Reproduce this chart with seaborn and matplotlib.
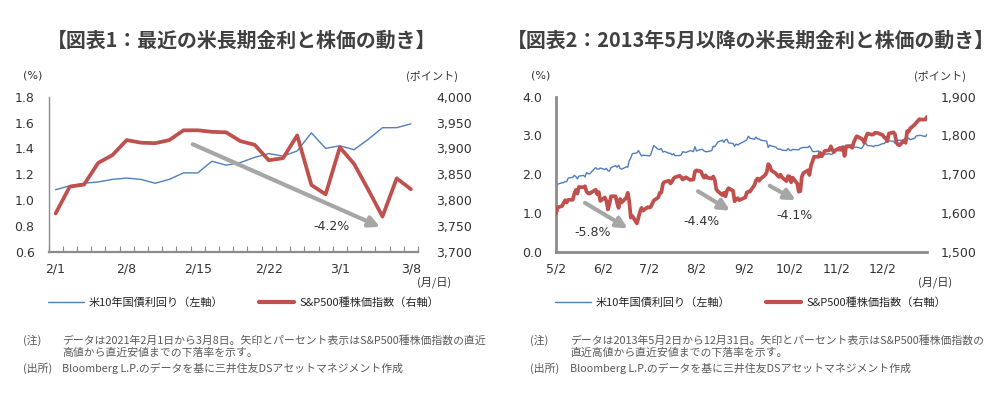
import numpy as np
import pandas as pd
import matplotlib
matplotlib.use("Agg")
import matplotlib.pyplot as plt
import matplotlib.dates as mdates
from matplotlib.lines import Line2D
import seaborn as sns

# ---------------- data: chart 1 (2021/2/1 - 3/8, weekdays) ----------------
days1 = ["2/1", "2/2", "2/3", "2/4", "2/5", "2/8", "2/9", "2/10", "2/11", "2/12",
         "2/15", "2/16", "2/17", "2/18", "2/19", "2/22", "2/23", "2/24", "2/25", "2/26",
         "3/1", "3/2", "3/3", "3/4", "3/5", "3/8"]
yield1 = [1.08, 1.11, 1.13, 1.14, 1.16, 1.17, 1.16, 1.13, 1.16, 1.21,
          1.21, 1.30, 1.27, 1.29, 1.33, 1.36, 1.34, 1.38, 1.52, 1.40,
          1.42, 1.39, 1.47, 1.56, 1.56, 1.59]
spx1 = [3774, 3826, 3830, 3872, 3887, 3916, 3911, 3910, 3916, 3935,
        3935, 3932, 3931, 3914, 3907, 3877, 3881, 3925, 3829, 3811,
        3902, 3870, 3820, 3768, 3842, 3821]
xtick_labels1 = ["2/1", "2/8", "2/15", "2/22", "3/1", "3/8"]

# ---------------- data: chart 2 (2013/5/2 - 12/31, trading days) ----------------
holidays2 = ["2013-05-27", "2013-07-04", "2013-09-02", "2013-11-28", "2013-12-25"]
yield2 = [
    1.63, 1.74, 1.78, 1.78, 1.81, 1.81, 1.90, 1.92, 1.97, 1.94, 1.88, 1.95, 1.97, 1.93, 2.04, 2.01, 2.01, 2.17, 2.13, 2.13, 2.16,
    2.12, 2.15, 2.09, 2.08, 2.17, 2.22, 2.18, 2.23, 2.15, 2.13, 2.19, 2.18, 2.35, 2.42, 2.53, 2.55, 2.61, 2.54, 2.47, 2.49,
    2.48, 2.47, 2.50, 2.74, 2.64, 2.64, 2.66, 2.57, 2.59, 2.54, 2.54, 2.50, 2.53, 2.48, 2.48, 2.50, 2.58, 2.57, 2.56, 2.61, 2.60, 2.58,
    2.71, 2.60, 2.64, 2.64, 2.60, 2.58, 2.58, 2.61, 2.72, 2.71, 2.77, 2.83, 2.88, 2.82, 2.89, 2.90, 2.81, 2.79, 2.72, 2.78, 2.75, 2.78,
    2.86, 2.89, 2.98, 2.93, 2.90, 2.96, 2.91, 2.91, 2.88, 2.86, 2.85, 2.69, 2.75, 2.73, 2.70, 2.66, 2.64, 2.65, 2.62, 2.61,
    2.66, 2.62, 2.61, 2.64, 2.63, 2.63, 2.67, 2.68, 2.69, 2.69, 2.73, 2.67, 2.59, 2.58, 2.60, 2.51, 2.50, 2.52, 2.51, 2.53, 2.51, 2.52, 2.55,
    2.62, 2.60, 2.66, 2.64, 2.60, 2.75, 2.75, 2.77, 2.71, 2.69, 2.70, 2.66, 2.71, 2.79, 2.79, 2.74, 2.73, 2.71, 2.74, 2.74,
    2.79, 2.79, 2.83, 2.88, 2.86, 2.85, 2.80, 2.85, 2.88, 2.87, 2.88, 2.84, 2.89, 2.93, 2.89, 2.93, 2.99, 3.00, 3.00, 2.97, 3.03,
]
spx2 = [
    1598, 1614, 1618, 1626, 1633, 1627, 1634, 1634, 1650, 1659, 1650, 1667, 1666, 1669, 1655, 1651, 1650, 1660, 1648, 1654, 1631,
    1640, 1631, 1609, 1623, 1643, 1643, 1626, 1613, 1636, 1627, 1639, 1652, 1629, 1588, 1592, 1573, 1588, 1603, 1613, 1606,
    1615, 1614, 1615, 1632, 1640, 1652, 1653, 1675, 1680, 1683, 1676, 1681, 1689, 1692, 1696, 1692, 1686, 1690, 1692, 1685, 1686, 1686,
    1707, 1710, 1707, 1697, 1691, 1697, 1691, 1689, 1694, 1685, 1661, 1656, 1646, 1652, 1643, 1657, 1664, 1657, 1630, 1635, 1638, 1633,
    1640, 1653, 1655, 1655, 1672, 1684, 1689, 1683, 1688, 1698, 1705, 1726, 1722, 1710, 1702, 1697, 1693, 1699, 1692, 1682,
    1695, 1694, 1679, 1691, 1676, 1655, 1656, 1693, 1703, 1710, 1698, 1722, 1733, 1745, 1745, 1755, 1746, 1752, 1760, 1762, 1772, 1763, 1757,
    1762, 1768, 1763, 1770, 1747, 1771, 1772, 1768, 1782, 1791, 1798, 1792, 1788, 1781, 1796, 1805, 1802, 1803, 1807, 1806,
    1801, 1795, 1793, 1785, 1805, 1808, 1803, 1782, 1776, 1775, 1787, 1781, 1811, 1810, 1818, 1828, 1833, 1842, 1841, 1841, 1848,
]
xtick_dates2 = ["2013-05-02", "2013-06-02", "2013-07-02", "2013-08-02",
                "2013-09-02", "2013-10-02", "2013-11-02", "2013-12-02"]
xtick_labels2 = ["5/2", "6/2", "7/2", "8/2", "9/2", "10/2", "11/2", "12/2"]

dates2 = pd.bdate_range("2013-05-02", "2013-12-31")
dates2 = dates2[~dates2.isin(pd.to_datetime(holidays2))]

# ---------------- style ----------------
sns.set_theme(style="white")
plt.rcParams["font.family"] = ["DejaVu Sans", "Noto Sans CJK JP"]
JP = ["Noto Sans CJK JP", "DejaVu Sans"]
BLUE = "#4f7fbd"
RED = "#c0504d"
ARROW = "#a6a6a6"
AXC = "#8c8c8c"
TXT = "#333333"
NOTE = "#595959"

W, H = 994, 394
fig = plt.figure(figsize=(W / 100, H / 100), dpi=100)
fig.patch.set_facecolor("white")


def rect(x0, x1, y0, y1):
    return [x0 / W, 1 - y1 / H, (x1 - x0) / W, (y1 - y0) / H]


def ftext(x, y, s, **kw):
    fig.text(x / W, 1 - y / H, s, **kw)


def style_axes(ax, axr, left_lw, bottom_lw, lpad, rpad):
    for a in (ax, axr):
        for sp in a.spines.values():
            sp.set_visible(False)
        a.set_xlabel("")
        a.set_ylabel("")
        a.grid(False)
    ax.spines["left"].set_visible(True)
    ax.spines["left"].set_color(AXC)
    ax.spines["left"].set_linewidth(left_lw)
    ax.spines["bottom"].set_visible(True)
    ax.spines["bottom"].set_color(AXC)
    ax.spines["bottom"].set_linewidth(bottom_lw)
    ax.tick_params(axis="y", length=0, pad=lpad, labelsize=9, labelcolor=TXT)
    axr.tick_params(axis="y", length=0, pad=rpad, labelsize=9, labelcolor=TXT)
    ax.tick_params(axis="x", labelsize=9, labelcolor=TXT)


# ================= chart 1 =================
ax1 = fig.add_axes(rect(48.5, 418, 96.7, 251.7))
ax1r = ax1.twinx()
x1 = np.arange(len(days1))
sns.lineplot(x=x1, y=yield1, ax=ax1, color=BLUE, lw=1.0)
sns.lineplot(x=x1, y=spx1, ax=ax1r, color=RED, lw=2.7)
ax1.set_xlim(-0.5, len(days1) - 0.5)
ax1.set_ylim(0.6, 1.8)
ax1.set_yticks(np.arange(0.6, 1.81, 0.2))
ax1.set_yticklabels([f"{v:.1f}" for v in np.arange(0.6, 1.81, 0.2)])
ax1r.set_ylim(3700, 4000)
ax1r.set_yticks(np.arange(3700, 4001, 50))
ax1r.set_yticklabels([f"{v:,}" for v in range(3700, 4001, 50)])
ax1.set_xticks([days1.index(d) for d in xtick_labels1])
ax1.set_xticklabels(xtick_labels1)
ax1.set_xticks(np.arange(-0.5, len(days1), 1), minor=True)
style_axes(ax1, ax1r, 1.0, 1.6, 10, 13)
ax1.tick_params(axis="x", which="major", length=0, pad=8)
ax1.tick_params(axis="x", which="minor", direction="in", length=4, width=0.8,
                color=AXC, bottom=True)

ax1r.annotate("", xy=(22.83, 3748), xytext=(9.65, 3908),
              arrowprops=dict(arrowstyle="-|>", color=ARROW, lw=3,
                              mutation_scale=16, shrinkA=0, shrinkB=0))
ax1r.text(19.43, 3748, "-4.2%", ha="center", va="center", fontsize=9, color=TXT)

# ================= chart 2 =================
ax2 = fig.add_axes(rect(556, 927, 96.7, 251.7))
ax2r = ax2.twinx()
sns.lineplot(x=dates2, y=yield2, ax=ax2, color=BLUE, lw=1.0)
sns.lineplot(x=dates2, y=spx2, ax=ax2r, color=RED, lw=2.7)
ax2.set_xlim(pd.Timestamp("2013-05-02"), pd.Timestamp("2013-12-31"))
ax2.set_ylim(0, 4)
ax2.set_yticks(np.arange(0, 4.01, 1))
ax2.set_yticklabels([f"{v:.1f}" for v in np.arange(0, 4.01, 1)])
ax2r.set_ylim(1500, 1900)
ax2r.set_yticks(np.arange(1500, 1901, 100))
ax2r.set_yticklabels([f"{v:,}" for v in range(1500, 1901, 100)])
ax2.set_xticks(pd.to_datetime(xtick_dates2))
ax2.set_xticklabels(xtick_labels2)
style_axes(ax2, ax2r, 2.0, 2.0, 10, 10)
ax2.tick_params(axis="x", direction="in", length=4, width=1, color=AXC, pad=8)


def dn(s):
    return mdates.date2num(pd.Timestamp(s))


arrows2 = [(("2013-05-21", 1626), ("2013-06-18", 1560), ("2013-05-26", 1549), "-5.8%"),
           (("2013-08-03", 1656), ("2013-08-24", 1606), ("2013-08-05 12:00", 1577), "-4.4%"),
           (("2013-09-19", 1670), ("2013-10-06", 1633), ("2013-10-05", 1594), "-4.1%")]
for (s0, v0), (s1, v1), (st, vt), lab in arrows2:
    ax2r.annotate("", xy=(dn(s1), v1), xytext=(dn(s0), v0),
                  arrowprops=dict(arrowstyle="-|>", color=ARROW, lw=3,
                                  mutation_scale=16, shrinkA=0, shrinkB=0))
    ax2r.text(dn(st), vt, lab, ha="center", va="center", fontsize=9, color=TXT)

# ================= texts =================
ftext(242, 40, "【図表1：最近の米長期金利と株価の動き】", ha="center", va="center",
      fontsize=14.3, fontweight="bold", color="#404040", family=JP)
ftext(751, 40, "【図表2：2013年5月以降の米長期金利と株価の動き】", ha="center", va="center",
      fontsize=14.3, fontweight="bold", color="#404040", family=JP)

for xp, xk, xd in ((32.7, 432, 434), (541, 940, 935)):
    ftext(xp, 76, "(%)", ha="center", va="center", fontsize=8, color=TXT)
    ftext(xk, 76, "(ポイント)", ha="center", va="center", fontsize=8, color=TXT, family=JP)
    ftext(xd, 282, "(月/日)", ha="center", va="center", fontsize=8, color=TXT, family=JP)

handles = [Line2D([], [], color=BLUE, lw=1.0), Line2D([], [], color=RED, lw=3)]
labels = ["米10年国債利回り（左軸）", "S&P500種株価指数（右軸）"]
for xl in (48, 555):
    fig.legend(handles, labels, loc="center left", bbox_to_anchor=(xl / W, 1 - 303 / H),
               ncol=2, frameon=False, borderpad=0, borderaxespad=0,
               handlelength=3.2, handletextpad=0.45, columnspacing=3.2,
               prop={"family": JP, "size": 8})

notes1 = ["データは2021年2月1日から3月8日。矢印とパーセント表示はS&P500種株価指数の直近",
          "高値から直近安値までの下落率を示す。"]
notes2 = ["データは2013年5月2日から12月31日。矢印とパーセント表示はS&P500種株価指数の",
          "直近高値から直近安値までの下落率を示す。"]
source = "Bloomberg L.P.のデータを基に三井住友DSアセットマネジメント作成"
for x0, x1t, notes in ((23, 62, notes1), (530, 570, notes2)):
    kw = dict(ha="left", va="center", fontsize=7.8, color=NOTE, family=JP)
    ftext(x0, 340, "(注)", **kw)
    ftext(x1t, 340, notes[0], **kw)
    ftext(x1t, 353, notes[1], **kw)
    ftext(x0, 368, "(出所)", **kw)
    ftext(x1t, 368, source, **kw)

fig.savefig("out.png", dpi=100, facecolor="white")
